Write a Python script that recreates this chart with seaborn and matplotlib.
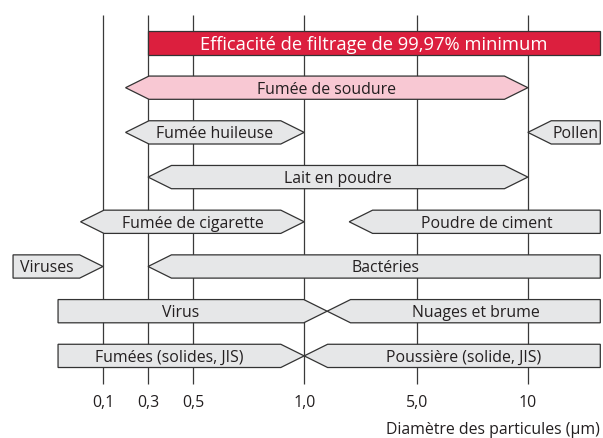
import matplotlib
matplotlib.use("Agg")
import matplotlib.pyplot as plt
import seaborn as sns
from matplotlib.patches import Polygon

# x axis is not linear: tick values sit at fixed slots
tick_labels = ["0,1", "0,3", "0,5", "1,0", "5,0", "10"]
tick_slots = [2.0, 3.0, 4.0, 6.47, 8.98, 11.44]
x_label = "Diamètre des particules (µm)"

# particle ranges: label, row, left end, right end, left shape, right shape, colour key
labels = ["Efficacité de filtrage de 99,97% minimum", "Fumée de soudure", "Fumée huileuse",
          "Pollen", "Lait en poudre", "Fumée de cigarette", "Poudre de ciment", "Viruses",
          "Bactéries", "Virus", "Nuages et brume", "Fumées (solides, JIS)", "Poussière (solide, JIS)"]
rows = [0, 1, 2, 2, 3, 4, 4, 5, 5, 6, 6, 7, 7]
lefts = [3.0, 2.5, 2.5, 11.44, 3.0, 1.5, 7.47, 0.0, 3.0, 1.0, 6.98, 1.0, 6.47]
rights = [13.05, 11.44, 6.47, 13.05, 11.44, 6.47, 13.05, 2.0, 13.05, 6.98, 13.05, 6.47, 13.05]
left_kind = ["flat", "tip", "tip", "tip", "tip", "tip", "tip", "flat", "tip", "flat", "tip", "flat", "tip"]
right_kind = ["flat", "tip", "tip", "flat", "tip", "tip", "flat", "tip", "flat", "tip", "flat", "tip", "flat"]
kinds = ["red", "pink"] + ["grey"] * 11

fills = {"red": "#DC1F3E", "pink": "#F8C8D3", "grey": "#E6E7E8"}
text_cols = {"red": "white", "pink": "#231F20", "grey": "#231F20"}

sns.set_style("white")
plt.rcParams["font.family"] = ["Open Sans", "DejaVu Sans"]

fig = plt.figure(figsize=(6.03, 4.39), dpi=100)
ax = fig.add_axes([0, 0, 1, 1])
ax.set_xlim(-0.29, 13.11)
ax.set_ylim(8.837, -0.984)
ax.axis("off")

# vertical guide lines behind the bars
ax.vlines(tick_slots, -0.63, 7.63, color="#3A3A3A", lw=0.9, zorder=1)

head = 0.52
half = 0.26
for lab, r, x0, x1, lk, rk, k in zip(labels, rows, lefts, rights, left_kind, right_kind, kinds):
    pts = []
    if lk == "tip":
        pts += [(x0, r), (x0 + head, r - half)]
        b0 = x0 + head
    else:
        pts += [(x0, r + half), (x0, r - half)]
        b0 = x0
    if rk == "tip":
        pts += [(x1 - head, r - half), (x1, r), (x1 - head, r + half)]
        b1 = x1 - head
    else:
        pts += [(x1, r - half), (x1, r + half)]
        b1 = x1
    if lk == "tip":
        pts += [(x0 + head, r + half)]
    ax.add_patch(Polygon(pts, closed=True, facecolor=fills[k], edgecolor="#333333",
                         lw=0.9, zorder=2))
    fs = 13.2 if k == "red" else 11.4
    ax.text((b0 + b1) / 2, r + 0.02, lab, ha="center", va="center", fontsize=fs,
            color=text_cols[k], zorder=3)

for s, t in zip(tick_slots, tick_labels):
    ax.text(s, 8.04, t, ha="center", va="center", fontsize=11.4, color="#231F20")
ax.text(13.05, 8.64, x_label, ha="right", va="center", fontsize=11.4, color="#231F20")

fig.savefig("out.png", dpi=100)
